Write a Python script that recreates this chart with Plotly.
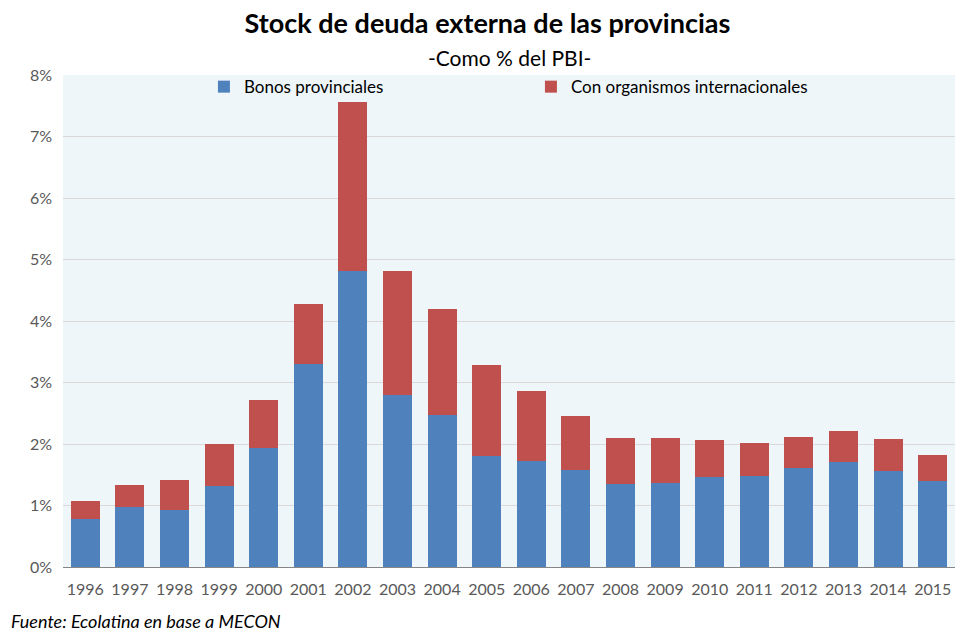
import plotly.graph_objects as go

years = ["1996","1997","1998","1999","2000","2001","2002","2003","2004","2005",
         "2006","2007","2008","2009","2010","2011","2012","2013","2014","2015"]
bonos = [0.78,0.97,0.92,1.31,1.93,3.30,4.81,2.79,2.47,1.80,
         1.72,1.57,1.35,1.36,1.46,1.48,1.61,1.70,1.56,1.40]
totales = [1.07,1.33,1.41,2.00,2.71,4.27,7.56,4.82,4.20,3.28,
           2.86,2.45,2.09,2.09,2.06,2.01,2.11,2.21,2.08,1.82]
organismos = [round(t - b, 2) for t, b in zip(totales, bonos)]

fig = go.Figure()
fig.add_trace(go.Bar(x=years, y=[v/100 for v in bonos], name="Bonos provinciales",
                     marker=dict(color="#4F81BD", line=dict(width=0))))
fig.add_trace(go.Bar(x=years, y=[v/100 for v in organismos], name="Con organismos internacionales",
                     marker=dict(color="#C0504D", line=dict(width=0))))

font = "Lato, 'Open Sans', sans-serif"
fig.update_layout(
    barmode="stack", bargap=0.35,
    width=975, height=635,
    paper_bgcolor="white", plot_bgcolor="#EEF6F9",
    margin=dict(l=63, r=20, t=75, b=68),
    font=dict(family=font, color="#595959", size=15),
    title=dict(text="<b>Stock de deuda externa de las provincias</b>",
               x=0.5, xanchor="center", y=1 - 24/635, yanchor="middle",
               font=dict(size=27, color="black", family=font)),
    showlegend=True,
    legend=dict(orientation="h", x=0.158, y=1.012, xanchor="left", yanchor="top",
                bgcolor="rgba(0,0,0,0)", font=dict(size=17, color="black"),
                itemwidth=30, traceorder="normal", entrywidth=282),
    yaxis=dict(range=[0, 0.08], dtick=0.01, tickformat=".0%",
               gridcolor="#D9D9D9", gridwidth=1, zeroline=False,
               showline=False, ticks="", ticklabelstandoff=10,
               tickfont=dict(size=16, color="#595959")),
    xaxis=dict(showline=True, linecolor="#868686", linewidth=1, ticks="",
               ticklabelstandoff=8,
               tickfont=dict(size=16, color="#595959")),
    annotations=[
        dict(text="-Como % del PBI-", x=0.5, xref="paper", xanchor="center",
             y=(567 - 58) / 492, yref="paper", yanchor="middle", showarrow=False,
             font=dict(size=21, color="black")),
        dict(text="<i>Fuente: Ecolatina en base a MECON</i>", xref="paper", yref="paper",
             x=(9 - 63) / 892, y=-(621 - 567) / 492, xanchor="left", yanchor="middle",
             showarrow=False, font=dict(size=18, color="black")),
    ],
)
fig.write_html("out.html", config={"displayModeBar": False})
with open("out.html", encoding="utf-8") as f:
    html = f.read()
html = html.replace("<body>", "<body style=\"margin:0;padding:0;\">", 1)
with open("out.html", "w", encoding="utf-8") as f:
    f.write(html)
